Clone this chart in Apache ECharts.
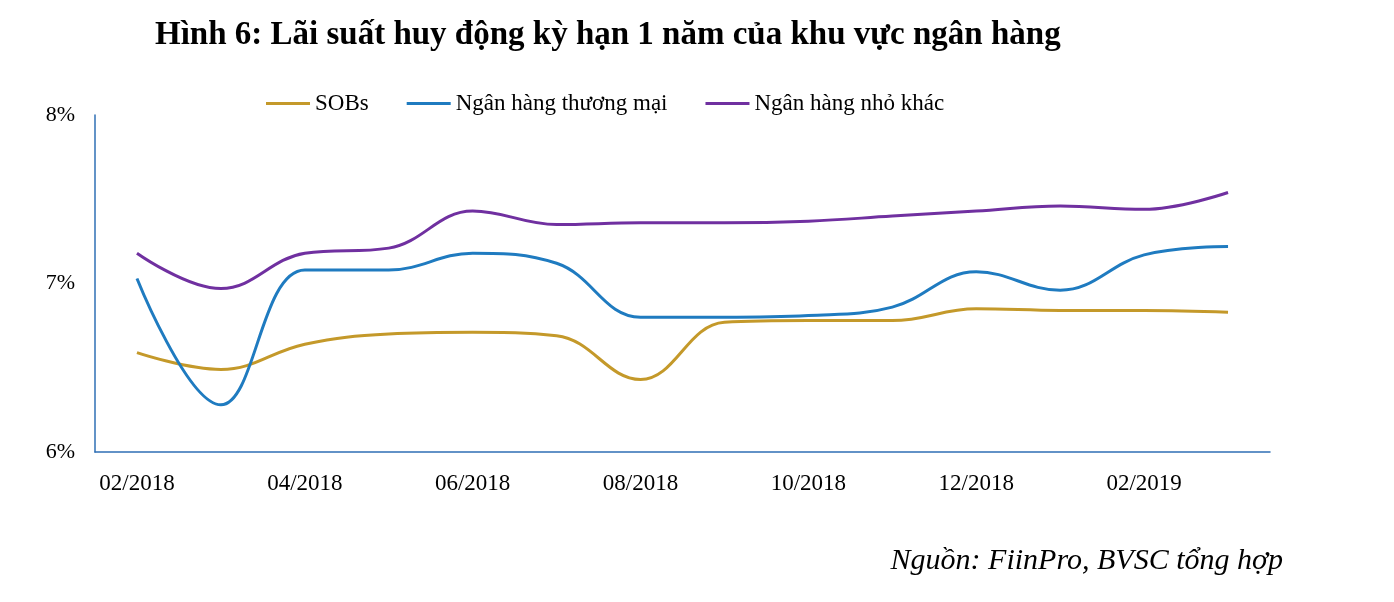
<!DOCTYPE html>
<html>
<head>
<meta charset="utf-8">
<script src="https://cdn.jsdelivr.net/npm/echarts@6/dist/echarts.min.js"></script>
<style>
  body { margin: 0; background: #fff; }
  #chart { width: 1394px; height: 602px; }
</style>
</head>
<body>
<div id="chart"></div>
<script>
const months = ['02/2018', '03/2018', '04/2018', '05/2018', '06/2018', '07/2018', '08/2018',
  '09/2018', '10/2018', '11/2018', '12/2018', '01/2019', '02/2019', '03/2019']
const sobs = [6.59, 6.49, 6.64, 6.70, 6.71, 6.69, 6.43, 6.77, 6.78, 6.78, 6.85, 6.84, 6.84, 6.83]
const commercial = [7.03, 6.28, 7.08, 7.08, 7.18, 7.12, 6.80, 6.80, 6.81, 6.86, 7.07, 6.96, 7.17, 7.22]
const smallBanks = [7.18, 6.97, 7.18, 7.21, 7.43, 7.35, 7.36, 7.36, 7.37, 7.40, 7.43, 7.46, 7.44, 7.54]

const font = 'Liberation Serif'
const chart = echarts.init(document.getElementById('chart'))

function line (name, data, color) {
  return {
    name: name,
    type: 'line',
    data: data,
    smooth: 0.4,
    showSymbol: false,
    lineStyle: { color: color, width: 3 },
    itemStyle: { color: color }
  }
}

chart.setOption({
  animation: false,
  title: [
    {
      text: 'Hình 6: Lãi suất huy động kỳ hạn 1 năm của khu vực ngân hàng',
      left: 150,
      top: 14,
      textStyle: { fontFamily: font, fontSize: 33, fontWeight: 'bold', color: '#000' }
    },
    {
      text: 'Nguồn: FiinPro, BVSC tổng hợp',
      right: 106,
      top: 541,
      textStyle: { fontFamily: font, fontSize: 30, fontStyle: 'italic', fontWeight: 'normal', color: '#000' }
    }
  ],
  legend: {
    top: 87,
    left: 261,
    itemWidth: 44,
    itemHeight: 3,
    itemGap: 38,
    icon: 'rect',
    textStyle: { fontFamily: font, fontSize: 23, color: '#000' }
  },
  grid: { left: 95, right: 124, top: 115, bottom: 150 },
  xAxis: {
    type: 'category',
    data: months,
    boundaryGap: true,
    axisLine: { lineStyle: { color: '#2f6fb5', width: 1.5 } },
    axisTick: { show: false },
    axisLabel: {
      interval: 1,
      margin: 20,
      fontFamily: font,
      fontSize: 23,
      color: '#000'
    }
  },
  yAxis: {
    type: 'value',
    min: 6,
    max: 8,
    interval: 1,
    splitLine: { show: false },
    axisLine: { show: true, lineStyle: { color: '#2f6fb5', width: 1.5 } },
    axisTick: { show: false },
    axisLabel: {
      formatter: v => v + '%',
      margin: 20,
      fontFamily: font,
      fontSize: 22,
      color: '#000'
    }
  },
  series: [
    line('SOBs', sobs, '#c4992a'),
    line('Ngân hàng thương mại', commercial, '#1f7bc0'),
    line('Ngân hàng nhỏ khác', smallBanks, '#7030a0')
  ]
})
</script>
</body>
</html>
